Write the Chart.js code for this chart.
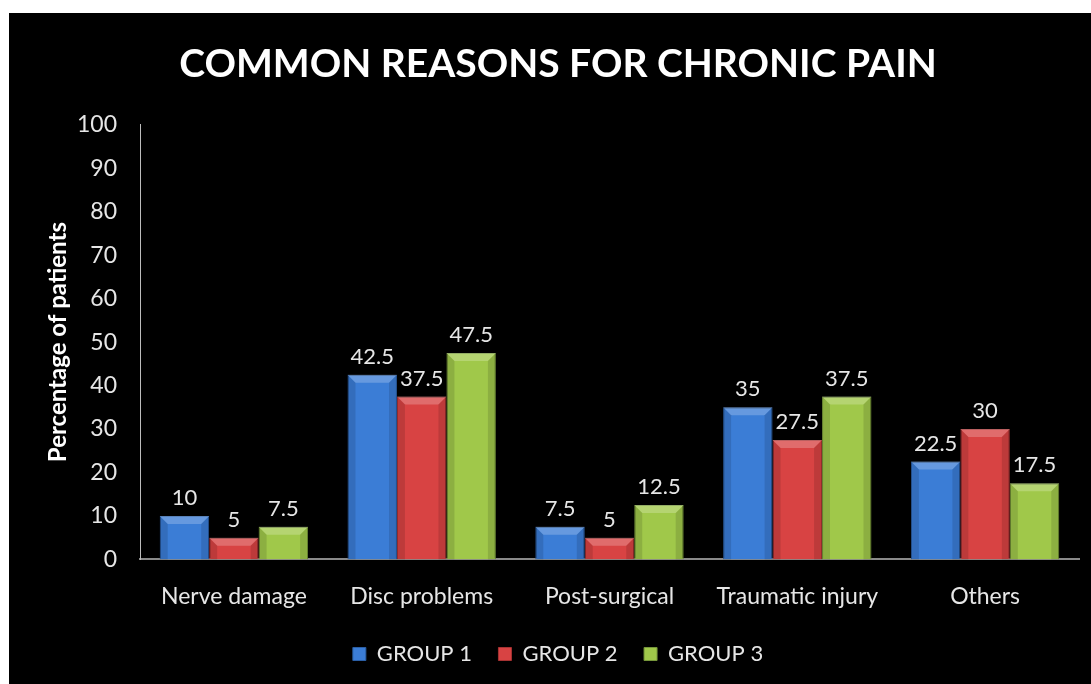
<!DOCTYPE html>
<html>
<head>
<meta charset="utf-8">
<title>Common reasons for chronic pain</title>
<script src="https://cdn.jsdelivr.net/npm/chart.js@4.4.1/dist/chart.umd.min.js"></script>
<style>
  html, body { margin: 0; padding: 0; background: #fff; }
  #wrap { position: absolute; left: 9px; top: 13px; width: 1082px; height: 671px; background: #000; }
</style>
</head>
<body>
<div id="wrap"><canvas id="painChart"></canvas></div>
<script>
const categories = ['Nerve damage', 'Disc problems', 'Post-surgical', 'Traumatic injury', 'Others'];
const group1 = [10, 42.5, 7.5, 35, 22.5];
const group2 = [5, 37.5, 5, 27.5, 30];
const group3 = [7.5, 47.5, 12.5, 37.5, 17.5];
const yTicks = [0, 10, 20, 30, 40, 50, 60, 70, 80, 90, 100];

const textColor = '#e6e6e6';
const fontFamily = 'Lato, "Open Sans", sans-serif';

// draws the little bevel on each bar plus the value on top
const barDecor = {
  id: 'barDecor',
  afterDatasetsDraw(chart) {
    const ctx = chart.ctx;
    chart.data.datasets.forEach((ds, di) => {
      const meta = chart.getDatasetMeta(di);
      meta.data.forEach((bar, i) => {
        const w = bar.width;
        const left = bar.x - w / 2;
        const right = bar.x + w / 2;
        const top = bar.y;
        const bottom = bar.base;
        const b = Math.min(8, (bottom - top) / 2);

        ctx.save();
        ctx.fillStyle = 'rgba(255,255,255,0.22)';
        ctx.beginPath();
        ctx.moveTo(left, top);
        ctx.lineTo(right, top);
        ctx.lineTo(right - b, top + b);
        ctx.lineTo(left + b, top + b);
        ctx.closePath();
        ctx.fill();

        ctx.fillStyle = 'rgba(0,0,0,0.12)';
        ctx.beginPath();
        ctx.moveTo(left, top);
        ctx.lineTo(left + b, top + b);
        ctx.lineTo(left + b, bottom);
        ctx.lineTo(left, bottom);
        ctx.closePath();
        ctx.fill();
        ctx.beginPath();
        ctx.moveTo(right, top);
        ctx.lineTo(right - b, top + b);
        ctx.lineTo(right - b, bottom);
        ctx.lineTo(right, bottom);
        ctx.closePath();
        ctx.fill();

        // value label
        ctx.fillStyle = textColor;
        ctx.font = '22px ' + fontFamily;
        ctx.textAlign = 'center';
        ctx.textBaseline = 'bottom';
        ctx.fillText(ds.data[i], bar.x, top - 7);
        ctx.restore();
      });
    });
  }
};

const ctx = document.getElementById('painChart').getContext('2d');

new Chart(ctx, {
  type: 'bar',
  data: {
    labels: categories,
    datasets: [
      {
        label: 'GROUP 1',
        data: group1,
        backgroundColor: '#3b7dd6',
        borderColor: '#2b5fa6',
        borderWidth: 1
      },
      {
        label: 'GROUP 2',
        data: group2,
        backgroundColor: '#d84343',
        borderColor: '#a63232',
        borderWidth: 1
      },
      {
        label: 'GROUP 3',
        data: group3,
        backgroundColor: '#a0c84a',
        borderColor: '#76963a',
        borderWidth: 1
      }
    ]
  },
  options: {
    responsive: true,
    maintainAspectRatio: false,
    animation: false,
    layout: {
      padding: { top: 10, right: 12, left: 28, bottom: 9 }
    },
    datasets: {
      bar: {
        barPercentage: 1,
        categoryPercentage: 0.79
      }
    },
    plugins: {
      title: {
        display: true,
        text: 'COMMON REASONS FOR CHRONIC PAIN',
        color: '#ffffff',
        font: { family: fontFamily, size: 39, weight: 'bold' },
        padding: { top: 18, bottom: 37 }
      },
      legend: {
        position: 'bottom',
        labels: {
          color: textColor,
          font: { family: fontFamily, size: 22 },
          boxWidth: 13,
          boxHeight: 13,
          padding: 10,
          // wider gap between items than the padding alone gives
          generateLabels(chart) {
            const items = Chart.defaults.plugins.legend.labels.generateLabels(chart);
            items.forEach((item, i) => {
              if (i < items.length - 1) item.text = item.text + '\u2002\u2009\u2009';
            });
            return items;
          }
        }
      },
      tooltip: { enabled: false }
    },
    scales: {
      x: {
        grid: { display: false, drawTicks: false },
        border: { color: '#8a8a8a', width: 2 },
        ticks: {
          color: textColor,
          font: { family: fontFamily, size: 23 },
          padding: 23
        }
      },
      y: {
        min: 0,
        max: 100,
        afterBuildTicks(scale) {
          scale.ticks = yTicks.map(v => ({ value: v }));
        },
        afterFit(scale) {
          scale.width = 103;
        },
        grid: { display: false, drawTicks: false },
        border: { color: '#bdbdbd', width: 1 },
        ticks: {
          color: textColor,
          font: { family: fontFamily, size: 23 },
          padding: 23
        },
        title: {
          display: true,
          text: 'Percentage of patients',
          color: '#ffffff',
          font: { family: fontFamily, size: 24, weight: 'bold' },
          padding: { top: 7, bottom: 10 }
        }
      }
    }
  },
  plugins: [barDecor]
});
</script>
</body>
</html>
